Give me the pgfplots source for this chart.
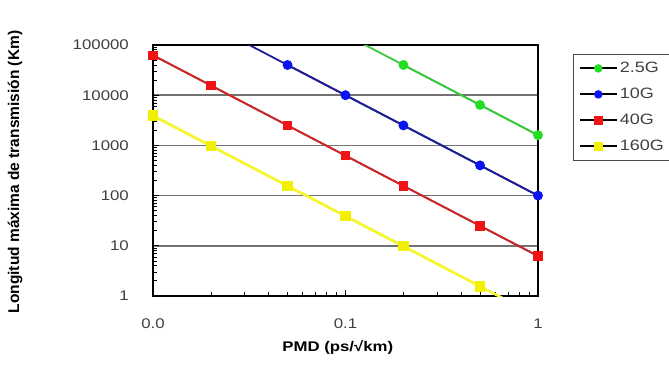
\documentclass[border=0pt]{standalone}
\usepackage{pgfplots}
\pgfplotsset{compat=1.18}
\usepackage{fontspec}
\setmainfont{Liberation Sans}
\newfontfamily\wide[FakeStretch=1.2]{Liberation Sans}
\definecolor{gline}{HTML}{3CC83C}
\definecolor{gmark}{HTML}{22DD22}
\definecolor{bline}{HTML}{1E1E96}
\definecolor{bmark}{HTML}{0A14F0}
\definecolor{rline}{HTML}{C82828}
\definecolor{rmark}{HTML}{F01414}
\definecolor{yline}{HTML}{F5F532}
\definecolor{ymark}{HTML}{F0F000}
\begin{document}
\begin{tikzpicture}[x=1pt,y=1pt]
\useasboundingbox (0,0) rectangle (669,365);
\begin{axis}[
  at={(153pt,69pt)}, anchor=south west,
  scale only axis, width=385pt, height=251pt,
  xmode=log, ymode=log,
  xmin=0.01, xmax=1, ymin=1, ymax=100000,
  xtick={0.01,0.1,1}, xticklabels={0.0,0.1,1},
  ytick={1,10,100,1000,10000,100000},
  yticklabels={1,10,100,1000,10000,100000},
  tick pos=left, tick align=inside,
  major tick length=6pt, minor tick length=4pt,
  every tick/.style={black, line width=0.8pt},
  ymajorgrids,
  major grid style={black!55, line width=1.5pt},
  axis line style={line width=2pt},
  /pgf/number format/assume math mode=true,
  every tick label/.append style={font=\wide\fontsize{14}{16}\selectfont, text=black!75},
  yticklabel style={anchor=east, inner sep=0pt, xshift=-24pt},
  xticklabel style={anchor=base, inner sep=0pt, yshift=-32pt},
  xlabel={PMD (ps/√km)},
  ylabel={Longitud máxima de transmisión (Km)},
  every axis x label/.style={at={(axis description cs:0.48,-0.203)}, anchor=center, font=\wide\bfseries\fontsize{14}{16}\selectfont},
  every axis y label/.style={at={(axis description cs:-0.358,0.494)}, rotate=90, anchor=center, font=\bfseries\fontsize{15.5}{17}\selectfont},
  legend style={at={(axis description cs:1.092,0.964)}, anchor=north west, draw=black!70, line width=0.8pt,
    font=\wide\fontsize{15}{17}\selectfont, row sep=10pt, inner ysep=6pt, inner xsep=5pt, text=black!75},
  legend cell align=left,
  legend image code/.code={\draw[black, line width=2pt] (0pt,0pt)--(37pt,0pt);
     \draw[only marks, mark repeat=2, mark phase=2, mark size=3.3pt] plot coordinates {(0pt,0pt) (18.5pt,0pt) (37pt,0pt)};},
]
% full lines (clipped)
\addplot[gline, line width=1.8pt, forget plot] coordinates {(0.1,160000) (0.2,40000) (0.5,6400) (1,1600)};
\addplot[bline, line width=1.8pt, forget plot] coordinates {(0.02,250000) (0.05,40000) (0.1,10000) (0.2,2500) (0.5,400) (1,100)};
\addplot[rline, line width=1.8pt, forget plot] coordinates {(0.01,62500) (0.02,15625) (0.05,2500) (0.1,625) (0.2,156) (0.5,25) (1,6.25)};
\addplot[yline, line width=2.5pt, forget plot] coordinates {(0.01,3906) (0.02,977) (0.05,156) (0.1,39) (0.2,9.8) (0.5,1.56) (1,0.39)};
% visible points with markers
\addplot[gline, line width=1.8pt, mark=*, mark size=4pt, mark options={gmark, fill=gmark, draw=gmark}] coordinates {(0.2,40000) (0.5,6400) (1,1600)};
\addlegendentry{2.5G}
\addplot[bline, line width=1.8pt, mark=*, mark size=4pt, mark options={bmark, fill=bmark, draw=bmark}] coordinates {(0.05,40000) (0.1,10000) (0.2,2500) (0.5,400) (1,100)};
\addlegendentry{10G}
\addplot[rline, line width=1.8pt, mark=square*, mark size=3.8pt, mark options={rmark, fill=rmark, draw=rmark}] coordinates {(0.01,62500) (0.02,15625) (0.05,2500) (0.1,625) (0.2,156) (0.5,25) (1,6.25)};
\addlegendentry{40G}
\addplot[yline, line width=2.5pt, mark=square*, mark size=4pt, mark options={ymark, fill=ymark, draw=ymark}] coordinates {(0.01,3906) (0.02,977) (0.05,156) (0.1,39) (0.2,9.8) (0.5,1.56)};
\addlegendentry{160G}
\end{axis}
\end{tikzpicture}
\end{document}
